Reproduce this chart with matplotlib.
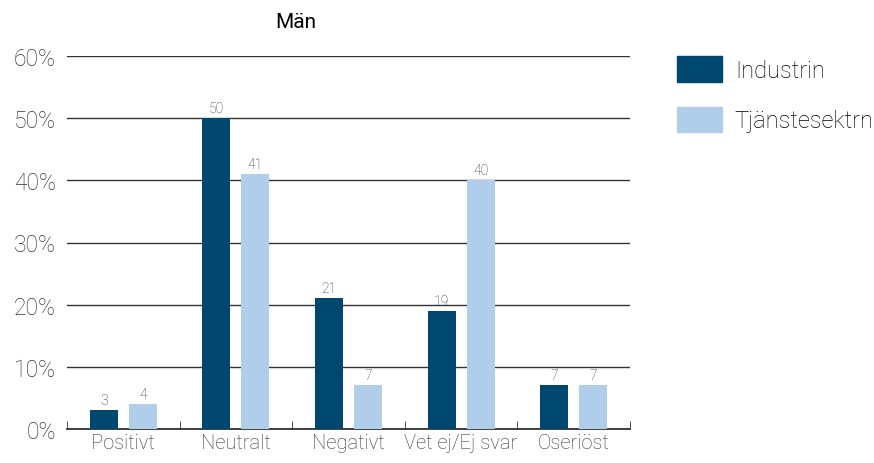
import numpy as np
import matplotlib.pyplot as plt
from matplotlib.patches import Patch

plt.rcParams['font.family'] = ['Roboto', 'DejaVu Sans']
plt.rcParams['font.weight'] = 'light'

categories = ["Positivt", "Neutralt", "Negativt", "Vet ej/Ej svar", "Oseriöst"]
industrin = [3, 50, 21, 19, 7]
tjanste = [4, 41, 7, 40, 7]
series_names = ["Industrin", "Tjänstesektrn"]
yticks = [0, 10, 20, 30, 40, 50, 60]

dark = "#00476f"
light = "#b0cde9"
txt = "#333333"

fig = plt.figure(figsize=(8.74, 4.64), dpi=100)
ax = fig.add_axes([67 / 874, 1 - 430 / 464, (630 - 67) / 874, (430 - 57) / 464])

x = np.arange(len(categories))
w = 0.25
off = 0.173
b1 = ax.bar(x - off, industrin, w, color=dark, zorder=3)
b2 = ax.bar(x + off, tjanste, w, color=light, zorder=3)

for bars, vals in ((b1, industrin), (b2, tjanste)):
    for r, v in zip(bars, vals):
        ax.text(r.get_x() + r.get_width() / 2, v + 0.5, str(v), ha='center', va='bottom',
                fontsize=10, color=txt)

ax.set_xlim(-0.5, len(categories) - 0.5)
ax.set_ylim(0, 60)
ax.set_yticks(yticks)
ax.set_yticklabels([f"{t}%" for t in yticks], fontsize=16.5, color=txt)
ax.yaxis.grid(True, color='#333333', lw=1, zorder=0)
ax.tick_params(axis='y', length=0, pad=8)

ax.set_xticks(x)
ax.set_xticklabels(categories, fontsize=14.5, color=txt)
ax.tick_params(axis='x', length=0, pad=3)
ax.set_xticks(np.arange(-0.5, len(categories)), minor=True)
ax.tick_params(axis='x', which='minor', direction='in', length=6, color='#333333')

for s in ['top', 'right', 'left']:
    ax.spines[s].set_visible(False)
ax.spines['bottom'].set_color('#222222')
ax.spines['bottom'].set_linewidth(1.2)

fig.text(296 / 874, 1 - 22 / 464, "Män", ha='center', va='center', fontsize=15,
         color='black', fontweight='normal')

handles = [Patch(color=dark), Patch(color=light)]
fig.legend(handles, series_names, loc='upper left', bbox_to_anchor=(677 / 874, 1 - 57 / 464),
           frameon=False, borderpad=0, borderaxespad=0, handlelength=1.9, handleheight=1.3,
           labelspacing=1.05, handletextpad=0.55, prop={'size': 17, 'weight': 'light'})

fig.savefig("out.png", dpi=100)
